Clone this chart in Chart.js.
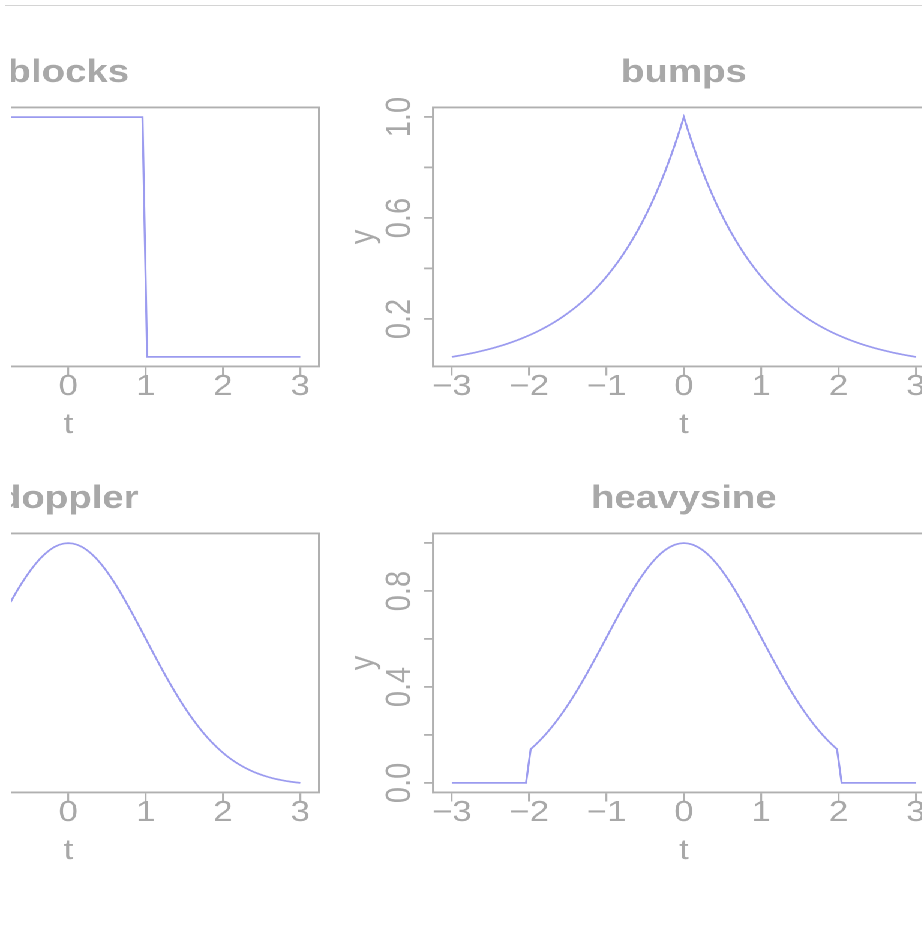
<!DOCTYPE html>
<html><head><meta charset="utf-8">
<script src="https://cdn.jsdelivr.net/npm/chart.js@4/dist/chart.umd.min.js"></script>
<style>
html,body{margin:0;padding:0;background:#fff;overflow:hidden;width:922px;height:938px;}
#rule{position:absolute;left:5px;top:5px;width:917px;height:0;border-top:1px solid #d4d4d4;}
#clip{position:absolute;left:11px;top:0;width:911px;height:938px;overflow:hidden;}
#stage{position:absolute;left:-11px;top:0;width:1100px;height:938px;transform:scaleX(1.2);transform-origin:0 0;}
#stage canvas{position:absolute;}
</style></head><body>
<div id="rule"></div>
<div id="clip"><div id="stage">
<canvas id="cBlocks" width="540" height="460" style="left:-251.8px;top:0px"></canvas>
<canvas id="cBumps" width="540" height="460" style="left:260.6px;top:0px"></canvas>
<canvas id="cDoppler" width="540" height="460" style="left:-251.8px;top:426px"></canvas>
<canvas id="cHeavy" width="540" height="460" style="left:260.6px;top:426px"></canvas>
</div></div>
<script>
// ---- data ----
const tGrid = [-3,-2.94,-2.88,-2.82,-2.76,-2.7,-2.64,-2.58,-2.52,-2.46,
 -2.4,-2.34,-2.28,-2.22,-2.16,-2.1,-2.04,-1.98,-1.92,-1.86,
 -1.8,-1.74,-1.68,-1.62,-1.56,-1.5,-1.44,-1.38,-1.32,-1.26,
 -1.2,-1.14,-1.08,-1.02,-0.96,-0.9,-0.84,-0.78,-0.72,-0.66,
 -0.6,-0.54,-0.48,-0.42,-0.36,-0.3,-0.24,-0.18,-0.12,-0.06,
 0,
 0.06,0.12,0.18,0.24,0.3,0.36,0.42,0.48,0.54,0.6,
 0.66,0.72,0.78,0.84,0.9,0.96,1.02,1.08,1.14,1.2,
 1.26,1.32,1.38,1.44,1.5,1.56,1.62,1.68,1.74,1.8,
 1.86,1.92,1.98,2.04,2.1,2.16,2.22,2.28,2.34,2.4,
 2.46,2.52,2.58,2.64,2.7,2.76,2.82,2.88,2.94,3];

const blocksY = [1,1,1,1,1,1,1,1,1,1,
 1,1,1,1,1,1,1,1,1,1,
 1,1,1,1,1,1,1,1,1,1,
 1,1,1,1,1,1,1,1,1,1,
 1,1,1,1,1,1,1,1,1,1,
 1,
 1,1,1,1,1,1,1,1,1,1,
 1,1,1,1,1,1,0,0,0,0,
 0,0,0,0,0,0,0,0,0,0,
 0,0,0,0,0,0,0,0,0,0,
 0,0,0,0,0,0,0,0,0,0];

const bumpsY = [0.0498,0.0529,0.0561,0.0596,0.0633,0.0672,0.0714,0.0758,0.0805,0.0854,
 0.0907,0.0963,0.1023,0.1086,0.1153,0.1225,0.1300,0.1381,0.1466,0.1557,
 0.1653,0.1755,0.1864,0.1979,0.2101,0.2231,0.2369,0.2516,0.2671,0.2837,
 0.3012,0.3198,0.3396,0.3606,0.3829,0.4066,0.4317,0.4584,0.4868,0.5169,
 0.5488,0.5827,0.6188,0.6570,0.6977,0.7408,0.7866,0.8353,0.8869,0.9418,
 1,
 0.9418,0.8869,0.8353,0.7866,0.7408,0.6977,0.6570,0.6188,0.5827,0.5488,
 0.5169,0.4868,0.4584,0.4317,0.4066,0.3829,0.3606,0.3396,0.3198,0.3012,
 0.2837,0.2671,0.2516,0.2369,0.2231,0.2101,0.1979,0.1864,0.1755,0.1653,
 0.1557,0.1466,0.1381,0.1300,0.1225,0.1153,0.1086,0.1023,0.0963,0.0907,
 0.0854,0.0805,0.0758,0.0714,0.0672,0.0633,0.0596,0.0561,0.0529,0.0498];

const dopplerY = [0.0111,0.0133,0.0158,0.0188,0.0222,0.0261,0.0307,0.0359,0.0418,0.0485,
 0.0561,0.0647,0.0743,0.0851,0.0970,0.1103,0.1248,0.1408,0.1583,0.1773,
 0.1979,0.2201,0.2439,0.2692,0.2962,0.3247,0.3546,0.3859,0.4185,0.4521,
 0.4868,0.5222,0.5581,0.5944,0.6308,0.6670,0.7027,0.7377,0.7717,0.8043,
 0.8353,0.8643,0.8912,0.9156,0.9373,0.9560,0.9716,0.9839,0.9928,0.9982,
 1,
 0.9982,0.9928,0.9839,0.9716,0.9560,0.9373,0.9156,0.8912,0.8643,0.8353,
 0.8043,0.7717,0.7377,0.7027,0.6670,0.6308,0.5944,0.5581,0.5222,0.4868,
 0.4521,0.4185,0.3859,0.3546,0.3247,0.2962,0.2692,0.2439,0.2201,0.1979,
 0.1773,0.1583,0.1408,0.1248,0.1103,0.0970,0.0851,0.0743,0.0647,0.0561,
 0.0485,0.0418,0.0359,0.0307,0.0261,0.0222,0.0188,0.0158,0.0133,0.0111];

const heavysineY = [0,0,0,0,0,0,0,0,0,0,
 0,0,0,0,0,0,0,0.1408,0.1583,0.1773,
 0.1979,0.2201,0.2439,0.2692,0.2962,0.3247,0.3546,0.3859,0.4185,0.4521,
 0.4868,0.5222,0.5581,0.5944,0.6308,0.6670,0.7027,0.7377,0.7717,0.8043,
 0.8353,0.8643,0.8912,0.9156,0.9373,0.9560,0.9716,0.9839,0.9928,0.9982,
 1,
 0.9982,0.9928,0.9839,0.9716,0.9560,0.9373,0.9156,0.8912,0.8643,0.8353,
 0.8043,0.7717,0.7377,0.7027,0.6670,0.6308,0.5944,0.5581,0.5222,0.4868,
 0.4521,0.4185,0.3859,0.3546,0.3247,0.2962,0.2692,0.2439,0.2201,0.1979,
 0.1773,0.1583,0.1408,0,0,0,0,0,0,0,
 0,0,0,0,0,0,0,0,0,0];

const xTicks = [-3,-2,-1,0,1,2,3];
const xTickLabels = ['\u22123','\u22122','\u22121','0','1','2','3'];
const yTicksA = [0,0.2,0.4,0.6,0.8,1.0];
const yTickLabelsA = ['0.0','','0.4','','0.8',''];
const yTicksBumps = [0.2,0.4,0.6,0.8,1.0];
const yTickLabelsBumps = ['0.2','','0.6','','1.0'];
const titles = ['blocks','bumps','doppler','heavysine'];

// ---- styling ----
const FONT = '"Liberation Sans", Arial, Helvetica, sans-serif';
const TXT = '#a8a8a8';
const BOX = '#b0b0b0';
const LINE = '#9b9bef';

function makeChart(id, yVals, yMin, yMax, yTicks, yLabels, title) {
  const pts = tGrid.map((t, i) => ({x: t, y: yVals[i]}));
  return new Chart(document.getElementById(id), {
    type: 'line',
    data: { datasets: [{ data: pts, borderColor: LINE, borderWidth: 1.7, pointRadius: 0, tension: 0, fill: false }] },
    options: {
      responsive: false, animation: false, devicePixelRatio: 2,
      events: [],
      layout: { padding: { top: 54.2, left: 0, right: 22.3, bottom: 0 } },
      plugins: {
        legend: { display: false }, tooltip: { enabled: false },
        title: { display: true, text: title, fullSize: false, color: TXT,
          font: { family: FONT, size: 32, weight: 'bold', lineHeight: 1.2 },
          padding: { top: 0, bottom: 14.9 } }
      },
      scales: {
        x: {
          type: 'linear', position: 'bottom', min: -3.24, max: 3.24,
          afterBuildTicks: s => { s.ticks = xTicks.map(v => ({ value: v })); },
          afterFit: s => { s.height = 93.5; },
          ticks: { autoSkip: false, maxRotation: 0, minRotation: 0, padding: -5.9, color: TXT,
            font: { family: FONT, size: 29 }, callback: (v, i) => xTickLabels[i] },
          grid: { drawOnChartArea: false, drawTicks: true, tickLength: 9, color: BOX, lineWidth: 1.6 },
          border: { display: true, color: BOX, width: 1.9 },
          title: { display: true, text: 't', color: TXT, font: { family: FONT, size: 29 }, padding: { top: 0, bottom: 17.6 } }
        },
        y: {
          type: 'linear', position: 'left', min: yMin, max: yMax,
          afterBuildTicks: s => { s.ticks = yTicks.map(v => ({ value: v })); },
          afterFit: s => { s.width = 100; },
          ticks: { autoSkip: false, minRotation: 90, maxRotation: 90, crossAlign: 'center', padding: 0, color: TXT,
            font: { family: FONT, size: 29 }, callback: (v, i) => yLabels[i] },
          grid: { drawOnChartArea: false, drawTicks: true, tickLength: 7.5, color: BOX, lineWidth: 1.8 },
          border: { display: true, color: BOX, width: 1.6 },
          title: { display: true, text: 'y', color: TXT, font: { family: FONT, size: 29 }, padding: { top: 24.4, bottom: 0 } }
        },
        x2: {
          type: 'linear', position: 'top', min: 0, max: 1,
          afterFit: s => { s.height = 0; },
          ticks: { display: false }, grid: { display: false, drawTicks: false },
          border: { display: true, color: BOX, width: 1.9 }
        },
        y2: {
          type: 'linear', position: 'right', min: 0, max: 1,
          afterFit: s => { s.width = 0; },
          ticks: { display: false }, grid: { display: false, drawTicks: false },
          border: { display: true, color: BOX, width: 1.6 }
        }
      }
    }
  });
}

makeChart('cBlocks', blocksY, -0.04, 1.04, yTicksA, yTickLabelsA, titles[0]);
makeChart('cBumps', bumpsY, 0.0118, 1.038, yTicksBumps, yTickLabelsBumps, titles[1]);
makeChart('cDoppler', dopplerY, -0.0285, 1.0396, yTicksA, yTickLabelsA, titles[2]);
makeChart('cHeavy', heavysineY, -0.04, 1.04, yTicksA, yTickLabelsA, titles[3]);
</script>
</body></html>
